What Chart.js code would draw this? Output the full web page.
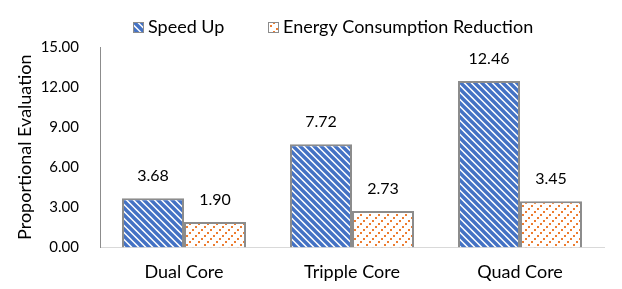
<!DOCTYPE html>
<html>
<head>
<meta charset="utf-8">
<script src="https://cdn.jsdelivr.net/npm/chart.js@4/dist/chart.umd.min.js"></script>
<style>
  html, body { margin: 0; padding: 0; background: #fff; }
  #wrap { width: 622px; height: 289px; }
</style>
</head>
<body>
<div id="wrap"><canvas id="chart1"></canvas></div>
<script>
let categories = ['Dual Core', 'Tripple Core', 'Quad Core'];
let speedUp = [3.68, 7.72, 12.46];
let energyReduction = [1.90, 2.73, 3.45];
let seriesNames = ['Speed Up', 'Energy Consumption Reduction'];
let yTicks = [0, 3, 6, 9, 12, 15];

const FONT = "Lato, 'Open Sans', sans-serif";

// blue wide diagonal stripes (\)
function stripePattern(){
  var s = 7;
  var c = document.createElement('canvas');
  c.width = s; c.height = s;
  var g = c.getContext('2d');
  g.fillStyle = '#ffffff';
  g.fillRect(0, 0, s, s);
  g.strokeStyle = '#4472C4';
  g.lineWidth = 3.4;
  g.beginPath();
  g.moveTo(-s, -s); g.lineTo(2 * s, 2 * s);
  g.moveTo(-s, 0); g.lineTo(s, 2 * s);
  g.moveTo(0, -s); g.lineTo(2 * s, s);
  g.stroke();
  return g.createPattern(c, 'repeat');
}

// orange dotted diagonal lines (/)
function dotPattern(){
  var c = document.createElement('canvas');
  c.width = 9; c.height = 9;
  var g = c.getContext('2d');
  g.fillStyle = '#ffffff';
  g.fillRect(0, 0, 9, 9);
  g.fillStyle = '#ED7D31';
  var pts = [[0, 7], [3, 4], [6, 1]];
  for (var i = 0; i < pts.length; i++) {
    g.fillRect(pts[i][0], pts[i][1], 2, 2);
  }
  return g.createPattern(c, 'repeat');
}

var blueFill = stripePattern();
var orangeFill = dotPattern();

// value labels above bars
const barLabels = {
  id: 'barLabels',
  afterDatasetsDraw(chart){
    var ctx = chart.ctx;
    ctx.save();
    ctx.font = '16px ' + FONT;
    ctx.fillStyle = '#000';
    ctx.textAlign = 'center';
    ctx.textBaseline = 'bottom';
    chart.data.datasets.forEach(function(ds, di){
      chart.getDatasetMeta(di).data.forEach(function(bar, i){
        ctx.fillText(ds.data[i].toFixed(2), bar.x, bar.y - 14);
      });
    });
    ctx.restore();
  }
};

// legend drawn by hand so the spacing matches
const topLegend = {
  id: 'topLegend',
  afterDraw(chart){
    var ctx = chart.ctx;
    var fills = [blueFill, orangeFill];
    var xs = [133, 268];
    var y = 27;
    ctx.save();
    ctx.font = '18px ' + FONT;
    ctx.textBaseline = 'middle';
    ctx.textAlign = 'left';
    for (var i = 0; i < seriesNames.length; i++) {
      ctx.fillStyle = fills[i];
      ctx.fillRect(xs[i], y - 5, 11, 11);
      ctx.strokeStyle = '#8c8c8c';
      ctx.lineWidth = 1;
      ctx.strokeRect(xs[i] + 0.5, y - 4.5, 10, 10);
      ctx.fillStyle = '#000';
      ctx.fillText(seriesNames[i], xs[i] + 15, y);
    }
    ctx.restore();
  }
};

var ctx = document.getElementById('chart1').getContext('2d');
new Chart(ctx, {
  type: 'bar',
  data: {
    labels: categories,
    datasets: [
      {
        label: seriesNames[0],
        data: speedUp,
        backgroundColor: blueFill,
        borderColor: '#8c8c8c',
        borderWidth: 2,
      },
      {
        label: seriesNames[1],
        data: energyReduction,
        backgroundColor: orangeFill,
        borderColor: '#8c8c8c',
        borderWidth: 2,
      },
    ],
  },
  options: {
    responsive: true,
    maintainAspectRatio: false,
    animation: false,
    layout: { padding: { left: 14, right: 18, top: 47, bottom: 0 } },
    datasets: {
      bar: { categoryPercentage: 0.738, barPercentage: 1.0 }
    },
    plugins: {
      legend: { display: false },
      tooltip: { enabled: false },
    },
    scales: {
      x: {
        grid: { display: false },
        border: { color: '#d9d9d9', width: 1 },
        ticks: { font: { family: FONT, size: 18 }, color: '#000', padding: 6 },
      },
      y: {
        min: 0,
        max: 15,
        afterBuildTicks: function(axis){
          axis.ticks = yTicks.map(function(v){ return { value: v }; });
        },
        afterFit: function(axis){
          axis.width = 86;
        },
        grid: { display: false },
        border: { color: '#8c8c8c', width: 1 },
        ticks: {
          font: { family: FONT, size: 15 },
          color: '#000',
          padding: 13,
          callback: function(v){ return Number(v).toFixed(2); },
        },
        title: {
          display: true,
          text: 'Proportional Evaluation',
          font: { family: FONT, size: 18 },
          color: '#000',
          padding: { top: 0, bottom: 0 },
        },
      },
    },
  },
  plugins: [barLabels, topLegend],
});
</script>
</body>
</html>
